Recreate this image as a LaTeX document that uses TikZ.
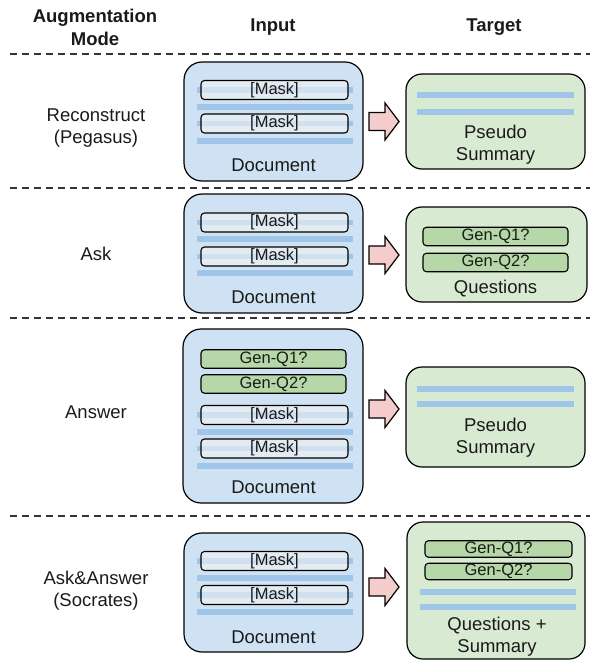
\documentclass[tikz,border=0pt]{standalone}
\usepackage{fontspec}
\setmainfont{Liberation Sans}
\definecolor{inblue}{HTML}{CFE2F3}
\definecolor{outgreen}{HTML}{D9EAD3}
\definecolor{genqgreen}{HTML}{B6D7A8}
\definecolor{lineblue}{HTML}{9FC5E8}
\definecolor{arrowpink}{HTML}{F4CCCC}
\definecolor{maskgray}{HTML}{F3F3F3}
\definecolor{txt}{HTML}{1A1A1A}
\newcommand\lblfont{\fontsize{18.5}{22}\selectfont}
\newcommand\boxfont{\fontsize{16.5}{18}\selectfont}
\newcommand\hdrfont{\fontsize{18.5}{23}\selectfont\bfseries}
\newcommand\blockarrow[2]{%
  \draw[arrowshape] (369,#1-9) -- (385,#1-9) -- (385,#1-18.5) -- (399,#1)
     -- (385,#1+18.5) -- (385,#1+9) -- (369,#1+9) -- cycle;}
\begin{document}
\begin{tikzpicture}[x=1pt,y=-1pt,
  inbox/.style={draw=black, line width=1.2pt, fill=inblue, rounded corners=18pt, inner sep=0pt},
  outbox/.style={draw=black, line width=1.2pt, fill=outgreen, rounded corners=16pt, inner sep=0pt},
  maskbox/.style={draw=black, line width=1.1pt, rounded corners=3.5pt, fill=maskgray, fill opacity=0.6,
     text opacity=1, draw opacity=1, minimum width=147pt, minimum height=19pt, inner sep=0pt, font=\boxfont, text=txt},
  genq/.style={draw=black, line width=1.1pt, rounded corners=3.5pt, fill=genqgreen,
     minimum width=145pt, minimum height=18.5pt, inner sep=0pt, font=\boxfont, text=txt},
  bline/.style={draw=lineblue, line width=5.5pt},
  lbl/.style={font=\lblfont, align=center, text=txt, inner sep=0pt},
  hdr/.style={font=\hdrfont, align=center, text=txt, inner sep=0pt},
  sep/.style={draw=black!80, line width=1.2pt, dash pattern=on 7pt off 5pt},
  arrowshape/.style={draw=black, line width=1.2pt, fill=arrowpink, line join=miter}
]
\useasboundingbox (0,0) rectangle (594,663);

% headers
\node[hdr] (h1) at (95,27) {Augmentation\\Mode};
\node[hdr] (h2) at (273,27) {Input};
\node[hdr] (h3) at (494,27) {Target};

% separators
\coordinate (s1a) at (10,54);  \coordinate (s1b) at (590,54);
\coordinate (s2a) at (10,188); \coordinate (s2b) at (590,188);
\coordinate (s3a) at (10,318); \coordinate (s3b) at (590,318);
\coordinate (s4a) at (10,516); \coordinate (s4b) at (590,516);
\draw[sep] (s1a) -- (s1b);
\draw[sep] (s2a) -- (s2b);
\draw[sep] (s3a) -- (s3b);
\draw[sep] (s4a) -- (s4b);

% ---------------- Row 1
\node[lbl] (m1) at (96,128.5) {Reconstruct\\(Pegasus)};
\node[inbox, minimum width=179pt, minimum height=119pt] (in1) at (273.5,121.5) {};
\draw[bline] (197,90) -- (353,90);
\draw[bline] (197,107) -- (353,107);
\draw[bline] (197,123.5) -- (353,123.5);
\draw[bline] (197,141) -- (353,141);
\node[maskbox] (in1m1) at (274.5,90) {[Mask]};
\node[maskbox] (in1m2) at (274.5,123.5) {[Mask]};
\node[lbl] (in1d) at (273.5,165) {Document};
\blockarrow{121.5}{a1}
\node[outbox, minimum width=179pt, minimum height=95pt] (out1) at (495.5,121.5) {};
\draw[bline] (417,95) -- (574,95);
\draw[bline] (417,112) -- (574,112);
\node[lbl] (out1t) at (495.5,145) {Pseudo\\Summary};

% ---------------- Row 2
\node[lbl] (m2) at (96,254) {Ask};
\node[inbox, minimum width=179pt, minimum height=119pt] (in2) at (273.5,253.5) {};
\draw[bline] (197,222.5) -- (353,222.5);
\draw[bline] (197,239) -- (353,239);
\draw[bline] (197,256.5) -- (353,256.5);
\draw[bline] (197,273) -- (353,273);
\node[maskbox] (in2m1) at (274.5,222.5) {[Mask]};
\node[maskbox] (in2m2) at (274.5,256.5) {[Mask]};
\node[lbl] (in2d) at (273.5,297) {Document};
\blockarrow{255}{a2}
\node[outbox, minimum width=181pt, minimum height=95pt] (out2) at (496.5,254.5) {};
\node[genq] (out2q1) at (495.5,236.5) {Gen-Q1?};
\node[genq] (out2q2) at (495.5,262.5) {Gen-Q2?};
\node[lbl] (out2t) at (495.5,289) {Questions};

% ---------------- Row 3
\node[lbl] (m3) at (96,412) {Answer};
\node[inbox, minimum width=180pt, minimum height=174pt] (in3) at (273,416) {};
\draw[bline] (197,415) -- (353,415);
\draw[bline] (197,432) -- (353,432);
\draw[bline] (197,448.5) -- (353,448.5);
\draw[bline] (197,466) -- (353,466);
\node[genq] (in3q1) at (273.5,359) {Gen-Q1?};
\node[genq] (in3q2) at (273.5,384) {Gen-Q2?};
\node[maskbox] (in3m1) at (274.5,415) {[Mask]};
\node[maskbox] (in3m2) at (274.5,448.5) {[Mask]};
\node[lbl] (in3d) at (273.5,487) {Document};
\blockarrow{409}{a3}
\node[outbox, minimum width=179pt, minimum height=100pt] (out3) at (495.5,417) {};
\draw[bline] (417,389) -- (574,389);
\draw[bline] (417,404) -- (574,404);
\node[lbl] (out3t) at (495.5,437.5) {Pseudo\\Summary};

% ---------------- Row 4
\node[lbl] (m4) at (96,591) {Ask\&Answer\\(Socrates)};
\node[inbox, minimum width=179pt, minimum height=119pt] (in4) at (273.5,592.5) {};
\draw[bline] (197,561) -- (353,561);
\draw[bline] (197,578) -- (353,578);
\draw[bline] (197,595) -- (353,595);
\draw[bline] (197,612) -- (353,612);
\node[maskbox] (in4m1) at (274.5,561) {[Mask]};
\node[maskbox] (in4m2) at (274.5,595) {[Mask]};
\node[lbl] (in4d) at (273.5,637) {Document};
\blockarrow{587}{a4}
\node[outbox, minimum width=178pt, minimum height=137pt] (out4) at (496,590.5) {};
\node[genq, minimum width=147pt, minimum height=16.5pt] (out4q1) at (498.5,549) {Gen-Q1?};
\node[genq, minimum width=147pt, minimum height=16.5pt] (out4q2) at (498.5,571.5) {Gen-Q2?};
\draw[bline] (420,592) -- (576,592);
\draw[bline] (420,607) -- (576,607);
\node[lbl] (out4t) at (497,637) {Questions +\\Summary};
\end{tikzpicture}
\end{document}
